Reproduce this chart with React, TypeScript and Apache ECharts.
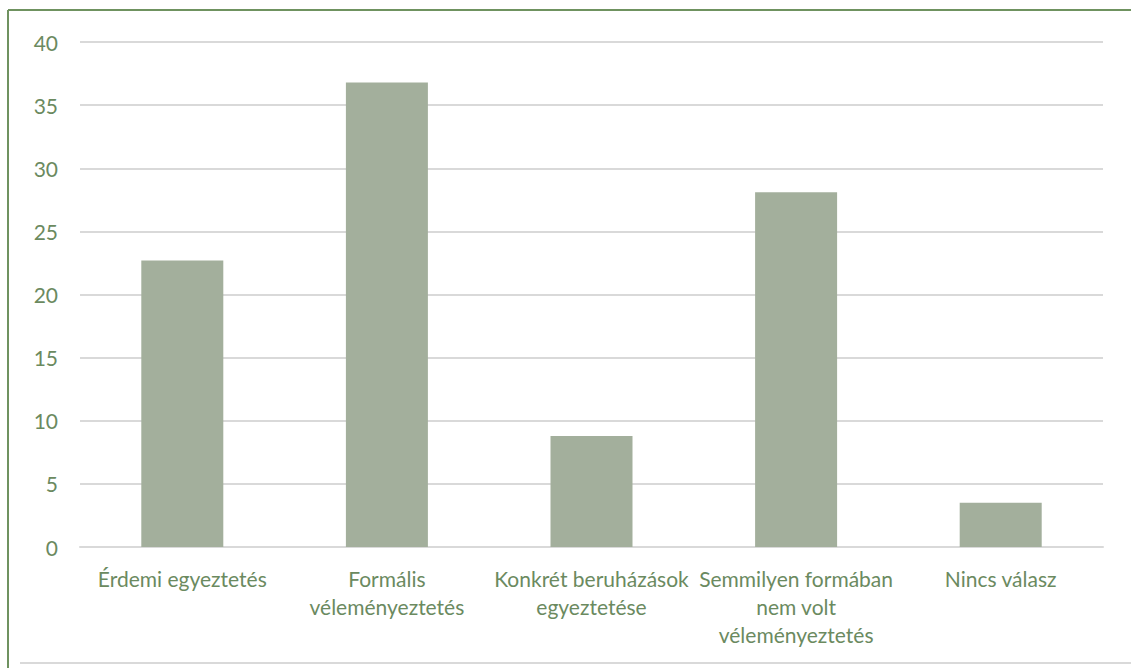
import React, { useEffect, useRef } from "react";
import * as echarts from "echarts";

const categories = [
  "Érdemi egyeztetés",
  "Formális\nvéleményeztetés",
  "Konkrét beruházások\negyeztetése",
  "Semmilyen formában\nnem volt\nvéleményeztetés",
  "Nincs válasz",
];
const values = [22.7, 36.8, 8.8, 28.1, 3.5];
const yTicks = { min: 0, max: 40, interval: 5 };

const TEXT = "#6b8a5f";
const BAR = "#a3af9c";
const GRID = "#d9d9d9";
const FRAME = "#6f9260";

export default function App() {
  const ref = useRef<HTMLDivElement>(null);

  useEffect(() => {
    if (!ref.current) return;
    const chart = echarts.init(ref.current, null, { renderer: "svg" });
    chart.setOption({
      animation: false,
      backgroundColor: "#ffffff",
      grid: { left: 80, right: 28, top: 42, bottom: 121 },
      xAxis: {
        type: "category",
        data: categories,
        axisLine: { show: true, lineStyle: { color: GRID, width: 2 } },
        axisTick: { show: false },
        axisLabel: {
          color: TEXT,
          fontFamily: "Lato",
          fontSize: 21,
          lineHeight: 28,
          margin: 17,
          interval: 0,
        },
      },
      yAxis: {
        type: "value",
        min: yTicks.min,
        max: yTicks.max,
        interval: yTicks.interval,
        axisLine: { show: false },
        axisTick: { show: false },
        splitLine: { lineStyle: { color: GRID, width: 2 } },
        axisLabel: {
          color: TEXT,
          fontFamily: "Lato",
          fontSize: 21,
          margin: 22,
        },
      },
      series: [
        {
          type: "bar",
          data: values,
          barWidth: 82,
          itemStyle: { color: BAR },
        },
      ],
      graphic: [
        {
          type: "line",
          shape: { x1: 8, y1: 10, x2: 8, y2: 668 },
          style: { stroke: FRAME, lineWidth: 2 },
        },
        {
          type: "line",
          shape: { x1: 8, y1: 10, x2: 1131, y2: 10 },
          style: { stroke: FRAME, lineWidth: 2 },
        },
        {
          type: "line",
          shape: { x1: 20, y1: 663, x2: 1131, y2: 663 },
          style: { stroke: GRID, lineWidth: 2 },
        },
      ],
    });
    return () => chart.dispose();
  }, []);

  return (
    <div
      ref={ref}
      style={{ position: "fixed", left: 0, top: 0, width: 1131, height: 668 }}
    />
  );
}
